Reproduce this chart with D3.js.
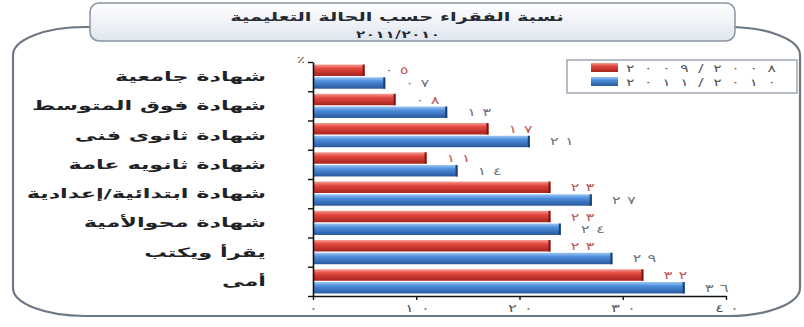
<!DOCTYPE html>
<html>
<head>
<meta charset="utf-8">
<script src="https://cdn.jsdelivr.net/npm/d3@7"></script>
<style>
  body { margin: 0; background: #fff; }
  svg { display: block; font-family: "DejaVu Sans", sans-serif; }
</style>
</head>
<body>
<svg width="804" height="327"></svg>
<script>
// chart data (top to bottom)
const categories = [
  "شهادة جامعية",
  "شهادة فوق المتوسط",
  "شهادة ثانوى فنى",
  "شهادة ثانويه عامة",
  "شهادة ابتدائية/إعدادية",
  "شهادة محوالأمية",
  "يقرأ ويكتب",
  "أمى"
];
const values0809 = [5, 8, 17, 11, 23, 23, 23, 32];
const values1011 = [7, 13, 21, 14, 27, 24, 29, 36];
const seriesNames = ["٢٠٠٩/٢٠٠٨", "٢٠١١/٢٠١٠"];
const xTicks = [0, 10, 20, 30, 40];
const title = "نسبة الفقراء حسب الحالة التعليمية";
const subtitle = "٢٠١١/٢٠١٠";

const svg = d3.select("svg");
const sxWords = 1.72; // the picture is stretched sideways
const sxNums = 1.5;

const toArabic = n => String(n).replace(/[0-9]/g, c => "٠١٢٣٤٥٦٧٨٩"[+c]);
const pad2 = n => toArabic(String(n).padStart(2, "0"));

// gradients
const defs = svg.append("defs");
function grad(id, stops) {
  const g = defs.append("linearGradient").attr("id", id)
    .attr("x1", 0).attr("y1", 0).attr("x2", 0).attr("y2", 1);
  stops.forEach(s => g.append("stop").attr("offset", s[0]).attr("stop-color", s[1]));
}
grad("gRed", [["0%", "#f59a92"], ["35%", "#e2473e"], ["100%", "#a5241e"]]);
grad("gBlue", [["0%", "#9cc6f2"], ["35%", "#4d8ddb"], ["100%", "#27589c"]]);
grad("gTitle", [["0%", "#ffffff"], ["100%", "#dfe5ee"]]);

// outer frame
const L = 13, T = 27, R = 800, B = 316, rx = 72, ry = 28;
svg.append("path")
  .attr("d", `M${L},${T + ry} A${rx},${ry} 0 0 1 ${L + rx},${T} L${R - rx},${T} A${rx},${ry} 0 0 1 ${R},${T + ry}
              L${R},${B - ry} A${rx},${ry} 0 0 1 ${R - rx},${B} L${L + rx},${B} A${rx},${ry} 0 0 1 ${L},${B - ry} Z`)
  .attr("fill", "none")
  .attr("stroke", "#6e7784")
  .attr("stroke-width", 2.2);

// title box
svg.append("rect")
  .attr("x", 90).attr("y", 3).attr("width", 645).attr("height", 38).attr("rx", 9)
  .attr("fill", "url(#gTitle)").attr("stroke", "#8a94a2").attr("stroke-width", 1.5);

svg.append("text")
  .attr("transform", `translate(397,21) scale(1.55,1)`)
  .attr("text-anchor", "middle")
  .attr("font-size", 12.5).attr("font-weight", "bold").attr("fill", "#262b33")
  .text(title);
svg.append("text")
  .attr("transform", `translate(356,38) scale(${sxNums},1)`)
  .attr("textLength", 56).attr("lengthAdjust", "spacing")
  .attr("font-size", 10).attr("font-weight", "bold").attr("fill", "#262b33")
  .text(subtitle);

// scales
const x = d3.scaleLinear().domain([0, 40]).range([313, 726]);
const y = d3.scaleBand().domain(categories).range([62, 296]).padding(0);
const yIdx = d3.scaleLinear().domain([0, categories.length]).range([62, 296]);
const inner = d3.scaleBand().domain([0, 1]).range([0, y.bandwidth()]).paddingInner(0.1).paddingOuter(0.2);

const rows = categories.map((c, i) => ({ c, v: [values0809[i], values1011[i]] }));
const fills = ["url(#gRed)", "url(#gBlue)"];
const ends = ["#7e1712", "#1b3e70"];
const labelCols = ["#c05a5a", "#6f747e"];

// bars
const row = svg.append("g").selectAll("g").data(rows).join("g")
  .attr("transform", d => `translate(0,${y(d.c)})`);

[0, 1].forEach(s => {
  row.append("rect")
    .attr("x", x(0))
    .attr("y", inner(s))
    .attr("width", d => x(d.v[s]) - x(0))
    .attr("height", inner.bandwidth())
    .attr("fill", fills[s]);
  row.append("rect")
    .attr("x", d => x(d.v[s]) - 2)
    .attr("y", inner(s))
    .attr("width", 2)
    .attr("height", inner.bandwidth())
    .attr("fill", ends[s]);
  row.append("text")
    .attr("transform", d => `translate(${x(d.v[s]) + 20},${inner(s) + inner.bandwidth() / 2 + 4}) scale(${sxNums},1)`)
    .attr("textLength", 16).attr("lengthAdjust", "spacing")
    .attr("font-size", 11)
    .attr("fill", labelCols[s])
    .text(d => pad2(d.v[s]));
});

// category labels
row.append("text")
  .attr("transform", d => `translate(266,${y.bandwidth() / 2 + 4.5}) scale(${sxWords},1)`)
  .attr("text-anchor", "end")
  .attr("font-size", 13)
  .attr("font-weight", "bold")
  .attr("fill", "#1f2328")
  .text(d => d.c);

// axes
const yAxis = svg.append("g")
  .attr("transform", `translate(${x(0)},0)`)
  .call(d3.axisLeft(yIdx).tickValues(d3.range(categories.length + 1)).tickFormat("").tickSize(5).tickSizeOuter(0));
yAxis.select(".domain").attr("stroke", "#111").attr("stroke-width", 1.6);
yAxis.selectAll(".tick line").attr("stroke", "#111").attr("stroke-width", 1.4);

const xAxis = svg.append("g")
  .attr("transform", `translate(0,296)`)
  .call(d3.axisBottom(x).tickValues(xTicks).tickFormat(toArabic).tickSize(4).tickSizeOuter(0).tickPadding(5));
xAxis.select(".domain").attr("stroke", "#111").attr("stroke-width", 1.6);
xAxis.selectAll(".tick line").attr("stroke", "#111").attr("stroke-width", 1.4);
xAxis.selectAll(".tick text")
  .attr("font-size", 10.5).attr("fill", "#555")
  .attr("transform", `scale(${sxNums},1)`)
  .attr("text-anchor", d => d === 0 ? "middle" : "start")
  .attr("x", d => d === 0 ? 0 : -8)
  .attr("textLength", d => d === 0 ? null : 16).attr("lengthAdjust", "spacing");

// percent sign
svg.append("text")
  .attr("transform", `translate(301,63) scale(1.45,1)`)
  .attr("text-anchor", "middle")
  .attr("font-size", 10).attr("fill", "#444")
  .text("٪");

// legend
const lg = svg.append("g");
lg.append("rect").attr("x", 567).attr("y", 60).attr("width", 230).attr("height", 33)
  .attr("fill", "#fff").attr("stroke", "#99a2ad").attr("stroke-width", 1.4);
seriesNames.forEach((name, i) => {
  lg.append("rect").attr("x", 591).attr("y", 63 + i * 14).attr("width", 27).attr("height", 9)
    .attr("fill", fills[i]);
  lg.append("text")
    .attr("transform", `translate(626,${72 + i * 14}) scale(${sxNums},1)`)
    .attr("textLength", 100).attr("lengthAdjust", "spacing")
    .attr("font-size", 10.5).attr("fill", "#555")
    .text(name);
});
</script>
</body>
</html>
